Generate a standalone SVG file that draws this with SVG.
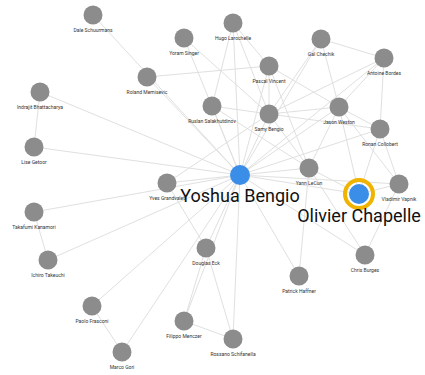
<svg xmlns="http://www.w3.org/2000/svg" width="425" height="375" viewBox="0 0 425 375">
<style>
.e{stroke:#e0e0e0;stroke-width:1;fill:none}
.n{fill:#8c8c8c}
.hub{fill:#3b8ee8}
.ring{fill:none;stroke:#efb300;stroke-width:4}
.l{font-family:Roboto,"Liberation Sans",sans-serif;font-size:5px;fill:#333;text-anchor:middle}
.big{font-family:Roboto,"Liberation Sans",sans-serif;font-size:18px;fill:#111;text-anchor:middle}
</style>
<rect width="425" height="375" fill="#fff"/>
<g id="connectors">
<line class="e" x1="240" y1="175" x2="93" y2="15"/>
<line class="e" x1="240" y1="175" x2="147" y2="77"/>
<line class="e" x1="240" y1="175" x2="40" y2="92"/>
<line class="e" x1="240" y1="175" x2="34" y2="147"/>
<line class="e" x1="240" y1="175" x2="167" y2="183"/>
<line class="e" x1="240" y1="175" x2="34" y2="212"/>
<line class="e" x1="240" y1="175" x2="48" y2="260"/>
<line class="e" x1="240" y1="175" x2="92" y2="306"/>
<line class="e" x1="240" y1="175" x2="122" y2="352"/>
<line class="e" x1="240" y1="175" x2="184" y2="321"/>
<line class="e" x1="240" y1="175" x2="233" y2="339"/>
<line class="e" x1="240" y1="175" x2="206" y2="248"/>
<line class="e" x1="240" y1="175" x2="299" y2="276"/>
<line class="e" x1="240" y1="175" x2="365" y2="255"/>
<line class="e" x1="240" y1="175" x2="359" y2="194"/>
<line class="e" x1="240" y1="175" x2="309" y2="168"/>
<line class="e" x1="240" y1="175" x2="339" y2="107"/>
<line class="e" x1="240" y1="175" x2="269" y2="114"/>
<line class="e" x1="240" y1="175" x2="269" y2="66"/>
<line class="e" x1="240" y1="175" x2="233" y2="23"/>
<line class="e" x1="240" y1="175" x2="212" y2="106"/>
<line class="e" x1="240" y1="175" x2="184" y2="38"/>
<line class="e" x1="240" y1="175" x2="321" y2="39"/>
<line class="e" x1="240" y1="175" x2="384" y2="58"/>
<line class="e" x1="240" y1="175" x2="380" y2="129"/>
<line class="e" x1="240" y1="175" x2="399" y2="184"/>
<line class="e" x1="147" y1="77" x2="269" y2="66"/>
<line class="e" x1="40" y1="92" x2="34" y2="147"/>
<line class="e" x1="34" y1="212" x2="48" y2="260"/>
<line class="e" x1="92" y1="306" x2="122" y2="352"/>
<line class="e" x1="184" y1="321" x2="206" y2="248"/>
<line class="e" x1="184" y1="321" x2="233" y2="339"/>
<line class="e" x1="206" y1="248" x2="233" y2="339"/>
<line class="e" x1="206" y1="248" x2="167" y2="183"/>
<line class="e" x1="299" y1="276" x2="309" y2="168"/>
<line class="e" x1="365" y1="255" x2="309" y2="168"/>
<line class="e" x1="365" y1="255" x2="399" y2="184"/>
<line class="e" x1="359" y1="194" x2="309" y2="168"/>
<line class="e" x1="359" y1="194" x2="339" y2="107"/>
<line class="e" x1="359" y1="194" x2="380" y2="129"/>
<line class="e" x1="359" y1="194" x2="399" y2="184"/>
<line class="e" x1="339" y1="107" x2="380" y2="129"/>
<line class="e" x1="339" y1="107" x2="384" y2="58"/>
<line class="e" x1="339" y1="107" x2="321" y2="39"/>
<line class="e" x1="339" y1="107" x2="399" y2="184"/>
<line class="e" x1="339" y1="107" x2="309" y2="168"/>
<line class="e" x1="339" y1="107" x2="269" y2="114"/>
<line class="e" x1="339" y1="107" x2="269" y2="66"/>
<line class="e" x1="321" y1="39" x2="384" y2="58"/>
<line class="e" x1="321" y1="39" x2="269" y2="114"/>
<line class="e" x1="384" y1="58" x2="380" y2="129"/>
<line class="e" x1="384" y1="58" x2="269" y2="114"/>
<line class="e" x1="380" y1="129" x2="399" y2="184"/>
<line class="e" x1="380" y1="129" x2="269" y2="114"/>
<line class="e" x1="233" y1="23" x2="212" y2="106"/>
<line class="e" x1="233" y1="23" x2="269" y2="114"/>
<line class="e" x1="233" y1="23" x2="269" y2="66"/>
<line class="e" x1="184" y1="38" x2="269" y2="114"/>
<line class="e" x1="269" y1="66" x2="269" y2="114"/>
<line class="e" x1="269" y1="66" x2="309" y2="168"/>
<line class="e" x1="212" y1="106" x2="269" y2="114"/>
<line class="e" x1="212" y1="106" x2="309" y2="168"/>
<line class="e" x1="167" y1="183" x2="269" y2="114"/>
<line class="e" x1="269" y1="114" x2="309" y2="168"/>
</g>
<g id="n-dale"><circle class="n" cx="93" cy="15" r="9.5"/><text class="l" x="93" y="32">Dale Schuurmans</text></g>
<g id="n-hugo"><circle class="n" cx="233" cy="23" r="9.5"/><text class="l" x="233" y="40">Hugo Larochelle</text></g>
<g id="n-yoram"><circle class="n" cx="184" cy="38" r="9.5"/><text class="l" x="184" y="55">Yoram Singer</text></g>
<g id="n-gal"><circle class="n" cx="321" cy="39" r="9.5"/><text class="l" x="321" y="56">Gal Chechik</text></g>
<g id="n-antoine"><circle class="n" cx="384" cy="58" r="9.5"/><text class="l" x="384" y="75">Antoine Bordes</text></g>
<g id="n-pascal"><circle class="n" cx="269" cy="66" r="9.5"/><text class="l" x="269" y="83">Pascal Vincent</text></g>
<g id="n-roland"><circle class="n" cx="147" cy="77" r="9.5"/><text class="l" x="147" y="94">Roland Memisevic</text></g>
<g id="n-indrajit"><circle class="n" cx="40" cy="92" r="9.5"/><text class="l" x="40" y="109">Indrajit Bhattacharya</text></g>
<g id="n-ruslan"><circle class="n" cx="212" cy="106" r="9.5"/><text class="l" x="212" y="123">Ruslan Salakhutdinov</text></g>
<g id="n-samy"><circle class="n" cx="269" cy="114" r="9.5"/><text class="l" x="269" y="131">Samy Bengio</text></g>
<g id="n-jason"><circle class="n" cx="339" cy="107" r="9.5"/><text class="l" x="339" y="124">Jason Weston</text></g>
<g id="n-ronan"><circle class="n" cx="380" cy="129" r="9.5"/><text class="l" x="380" y="146">Ronan Collobert</text></g>
<g id="n-lise"><circle class="n" cx="34" cy="147" r="9.5"/><text class="l" x="34" y="164">Lise Getoor</text></g>
<g id="n-yann"><circle class="n" cx="309" cy="168" r="9.5"/><text class="l" x="309" y="185">Yann LeCun</text></g>
<g id="n-yves"><circle class="n" cx="167" cy="183" r="9.5"/><text class="l" x="167" y="200">Yves Grandvalet</text></g>
<g id="n-vladimir"><circle class="n" cx="399" cy="184" r="9.5"/><text class="l" x="399" y="201">Vladimir Vapnik</text></g>
<g id="n-takafumi"><circle class="n" cx="34" cy="212" r="9.5"/><text class="l" x="34" y="229">Takafumi Kanamori</text></g>
<g id="n-douglas"><circle class="n" cx="206" cy="248" r="9.5"/><text class="l" x="206" y="265">Douglas Eck</text></g>
<g id="n-chris"><circle class="n" cx="365" cy="255" r="9.5"/><text class="l" x="365" y="272">Chris Burges</text></g>
<g id="n-ichiro"><circle class="n" cx="48" cy="260" r="9.5"/><text class="l" x="48" y="277">Ichiro Takeuchi</text></g>
<g id="n-patrick"><circle class="n" cx="299" cy="276" r="9.5"/><text class="l" x="299" y="293">Patrick Haffner</text></g>
<g id="n-paolo"><circle class="n" cx="92" cy="306" r="9.5"/><text class="l" x="92" y="323">Paolo Frasconi</text></g>
<g id="n-filippo"><circle class="n" cx="184" cy="321" r="9.5"/><text class="l" x="184" y="338">Filippo Menczer</text></g>
<g id="n-rossano"><circle class="n" cx="233" cy="339" r="9.5"/><text class="l" x="233" y="356">Rossano Schifanella</text></g>
<g id="n-marco"><circle class="n" cx="122" cy="352" r="9.5"/><text class="l" x="122" y="369">Marco Gori</text></g>
<g id="n-yoshua"><circle class="hub" cx="240" cy="175" r="10"/><text class="big" x="240" y="202">Yoshua Bengio</text></g>
<g id="n-olivier"><circle class="ring" cx="359" cy="194" r="14"/><circle class="hub" cx="359" cy="194" r="10"/><text class="big" x="359" y="222">Olivier Chapelle</text></g>
</svg>
